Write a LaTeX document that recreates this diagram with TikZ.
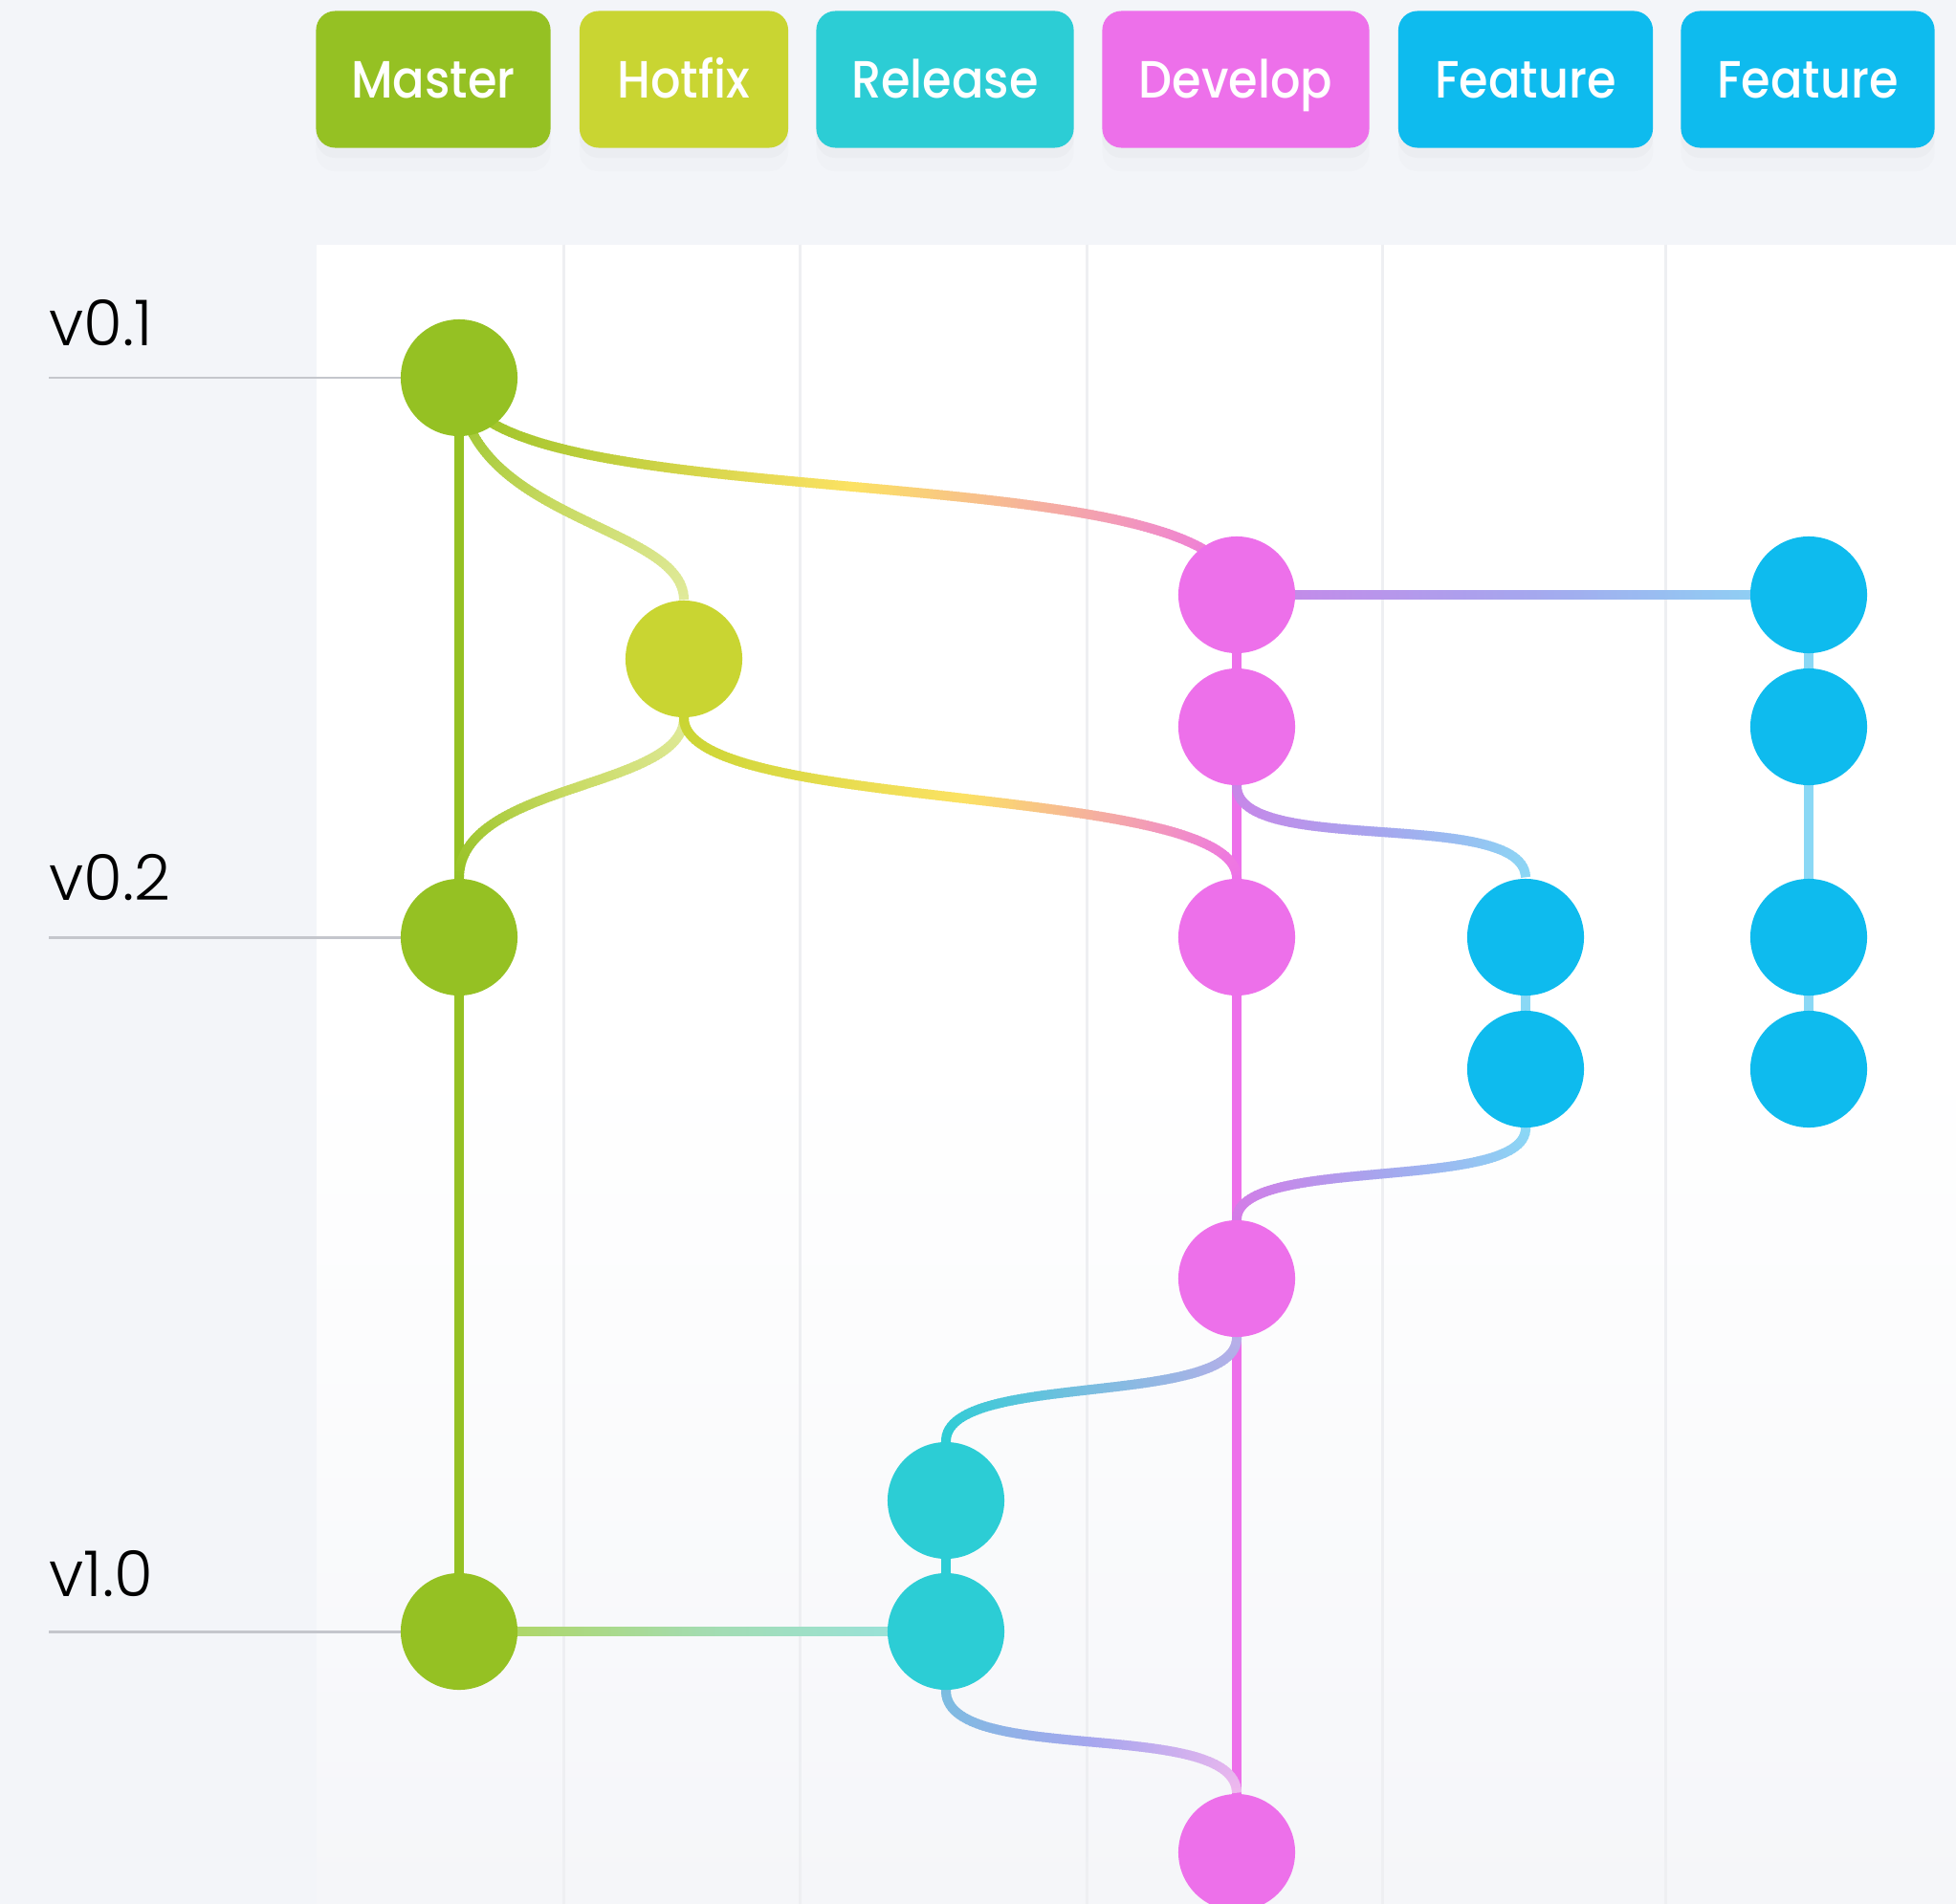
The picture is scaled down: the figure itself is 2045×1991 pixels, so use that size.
\documentclass[tikz,border=0pt]{standalone}
\usepackage{fontspec}
\setmainfont{Poppins}
\newfontfamily\btnfont{Poppins Medium}[FakeStretch=0.9]
\newfontfamily\tagfont{Poppins Light}
\usepackage{xcolor}
\usetikzlibrary{
    arrows.meta,
    shapes,
    positioning,
    shadows,
    decorations.markings,
    calc
}
% branch colours
\definecolor{cmaster}{HTML}{95C123}
\definecolor{chotfix}{HTML}{C9D532}
\definecolor{crelease}{HTML}{2CCDD5}
\definecolor{cdevelop}{HTML}{ED70EA}
\definecolor{cfeature}{HTML}{0EBBEE}
% colours used inside the merge lines
\definecolor{cyellow}{HTML}{FCE263}
\definecolor{cpale}{HTML}{E0EA9B}
\definecolor{clime}{HTML}{C8DA62}
\definecolor{clilac}{HTML}{C985E8}
\definecolor{cperi}{HTML}{A6A6EE}
\definecolor{csky}{HTML}{8AD8F5}
\definecolor{cbluegrey}{HTML}{7BBDE0}
\definecolor{clav}{HTML}{B9AEE9}
\definecolor{cpinkpale}{HTML}{EFB8EE}
\definecolor{cpurple}{HTML}{D57AE7}
\definecolor{cmint}{HTML}{A4DCB0}
\definecolor{cgreenlt}{HTML}{B2D552}
\definecolor{ctealt}{HTML}{96E4E4}
% page
\definecolor{cbg}{HTML}{F3F5F9}
\definecolor{cpanel}{HTML}{F5F6F9}
\definecolor{cgrid}{HTML}{EEEFF2}
\definecolor{ctag}{HTML}{C4C6CC}
\pgfdeclarelayer{panel}
\pgfdeclarelayer{links}
\pgfsetlayers{panel,links,main}
\tikzset{%
    % Specifications for style of nodes:
    commit/.style = {circle, inner sep=0pt, minimum size=1.22cm},
    btn/.style = {
        rectangle, rounded corners=0.2cm, minimum height=1.43cm,
        inner sep=0pt, text=white, text height=0.38cm, text depth=0pt,
        font=\btnfont\fontsize{15.6pt}{18pt}\selectfont,
        drop shadow={shadow xshift=0pt, shadow yshift=-3pt, opacity=.035},
        drop shadow={shadow xshift=0pt, shadow yshift=-7pt, opacity=.025}
    },
    tag/.style = {anchor=base west, inner sep=0pt,
        font=\tagfont\fontsize{18.8pt}{22pt}\selectfont},
    tagline/.style = {draw=ctag, line width=0.85pt},
    grid/.style = {draw=cgrid, line width=0.85pt},
    link/.style = {line width=2.85pt},
    % line whose colour runs #1 -> #2 -> #3 along the path
    grad/.style n args={3}{
        decoration={markings,
            mark=between positions 0 and 1 step 1pt with {
                \pgfmathsetmacro\gpos{100*(\pgfkeysvalueof{/pgf/decoration/mark info/distance from start}/\pgfdecoratedpathlength)}
                \ifdim\gpos pt<50pt
                    \pgfmathtruncatemacro\gmix{2*\gpos}\colorlet{gcol}{#2!\gmix!#1}
                \else
                    \pgfmathtruncatemacro\gmix{2*\gpos-100}\colorlet{gcol}{#3!\gmix!#2}
                \fi
                \fill[gcol] (-0.7pt,-1.42pt) rectangle (0.7pt,1.42pt);
            }
        },
        postaction={decorate}
    }
}

\begin{document}
\begin{tikzpicture}[x=0.01cm, y=-0.01cm]
\useasboundingbox (0,0) rectangle (2045,1991);
\begin{pgfonlayer}{panel}
    \fill[cbg] (0,0) rectangle (2045,1991);
    \fill[white] (331,256) rectangle (2045,1101);
    \shade[top color=white, bottom color=cpanel] (331,1100) rectangle (2045,1991);
    \foreach \gx in {589,836,1136,1445,1741}
        \draw[grid] (\gx,256) -- (\gx,1991);
\end{pgfonlayer}

% branch buttons
\node[btn, fill=cmaster, minimum width=2.45cm] (bmaster) at (453,83) {Master};
\node[btn, fill=chotfix, minimum width=2.18cm] (bhotfix) at (715,83) {Hotfix};
\node[btn, fill=crelease, minimum width=2.69cm] (brelease) at (988,83) {Release};
\node[btn, fill=cdevelop, minimum width=2.79cm] (bdevelop) at (1292,83) {Develop};
\node[btn, fill=cfeature, minimum width=2.66cm] (bfeatA) at (1595,83) {Feature};
\node[btn, fill=cfeature, minimum width=2.65cm] (bfeatB) at (1890,83) {Feature};

% versions
\node[tag] (v01) at (51,361) {v0.1};
\node[tag] (v02) at (51,941) {v0.2};
\node[tag] (v10) at (51,1669) {v1.0};

% commits
\node[commit, fill=cmaster] (m1) at (480,395) {};
\node[commit, fill=cmaster] (m2) at (480,980) {};
\node[commit, fill=cmaster] (m3) at (480,1706) {};
\node[commit, fill=chotfix] (hf1) at (715,689) {};
\node[commit, fill=crelease] (rl1) at (989,1569) {};
\node[commit, fill=crelease] (rl2) at (989,1706) {};
\node[commit, fill=cdevelop] (dv1) at (1293,622) {};
\node[commit, fill=cdevelop] (dv2) at (1293,760) {};
\node[commit, fill=cdevelop] (dv3) at (1293,980) {};
\node[commit, fill=cdevelop] (dv4) at (1293,1337) {};
\node[commit, fill=cdevelop] (dv5) at (1293,1937) {};
\node[commit, fill=cfeature] (fa1) at (1595,980) {};
\node[commit, fill=cfeature] (fa2) at (1595,1118) {};
\node[commit, fill=cfeature] (fb1) at (1891,622) {};
\node[commit, fill=cfeature] (fb2) at (1891,760) {};
\node[commit, fill=cfeature] (fb3) at (1891,980) {};
\node[commit, fill=cfeature] (fb4) at (1891,1118) {};

\begin{pgfonlayer}{links}
    \draw[tagline] (m1.center) -- (m1.center -| v01.west);
    \draw[tagline] (m2.center) -- (m2.center -| v02.west);
    \draw[tagline] (m3.center) -- (m3.center -| v10.west);
    % straight lines along a branch
    \draw[link, cmaster] (m1.center) -- (m2.center);
    \draw[link, cmaster] (m2.center) -- (m3.center);
    \draw[link, crelease] (rl1.center) -- (rl2.center);
    \foreach \a/\b in {dv1/dv2,dv2/dv3,dv3/dv4,dv4/dv5}
        \draw[link, cdevelop] (\a.center) -- (\b.center);
    \foreach \a/\b in {fa1/fa2,fb1/fb2,fb2/fb3,fb3/fb4}
        \draw[link, csky] (\a.center) -- (\b.center);
    % branching and merging
    \path[grad={cmaster}{cyellow}{cdevelop}] (m1.center) .. controls +(0,154) and +(0,-154) .. (dv1.center);
    \path[grad={cmaster}{clime}{cpale}] (m1.center) .. controls +(0,150) and +(0,-80) .. (hf1.north);
    \path[grad={cpale}{clime}{cmaster}] (hf1.south) .. controls +(0,75) and +(0,-100) .. (m2.north);
    \path[grad={chotfix}{cyellow}{cdevelop}] (hf1.south) .. controls +(0,100) and +(0,-100) .. (dv3.north);
    \path[grad={clilac}{cperi}{csky}] (dv1.center) -- (fb1.center);
    \path[grad={clilac}{cperi}{csky}] (dv2.south) .. controls +(0,75) and +(0,-75) .. (fa1.north);
    \path[grad={csky}{cperi}{cpurple}] (fa2.south) .. controls +(0,68) and +(0,-68) .. (dv4.north);
    \path[grad={clav}{cbluegrey}{crelease}] (dv4.south) .. controls +(0,74) and +(0,-74) .. (rl1.north);
    \path[grad={cgreenlt}{cmint}{ctealt}] (m3.center) -- (rl2.center);
    \path[grad={cbluegrey}{cperi}{cpinkpale}] (rl2.south) .. controls +(0,80) and +(0,-80) .. (dv5.north);
\end{pgfonlayer}
\end{tikzpicture}
\end{document}
